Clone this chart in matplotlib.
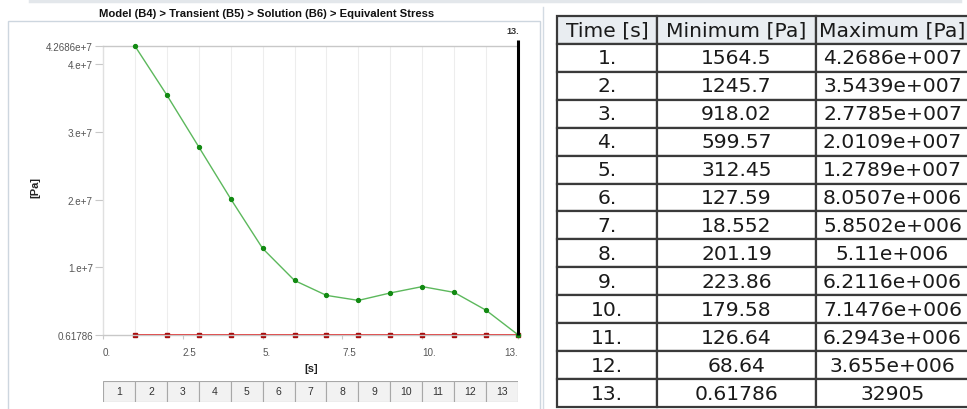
import matplotlib.pyplot as plt
from matplotlib.patches import Rectangle
from matplotlib.lines import Line2D

time_s = [1, 2, 3, 4, 5, 6, 7, 8, 9, 10, 11, 12, 13]
max_pa = [4.2686e7, 3.5439e7, 2.7785e7, 2.0109e7, 1.2789e7, 8.0507e6, 5.8502e6,
          5.11e6, 6.2116e6, 7.1476e6, 6.2943e6, 3.655e6, 32905]
min_pa = [1564.5, 1245.7, 918.02, 599.57, 312.45, 127.59, 18.552,
          201.19, 223.86, 179.58, 126.64, 68.64, 0.61786]

xtick_vals = [0, 2.5, 5, 7.5, 10, 13]
xtick_labels = ["0.", "2.5", "5.", "7.5", "10.", "13."]
ytick_vals = [0.61786, 1e7, 2e7, 3e7, 4e7, 4.2686e7]
ytick_labels = ["0.61786", "1.e+7", "2.e+7", "3.e+7", "4.e+7", "4.2686e+7"]

table_header = ["Time [s]", "Minimum [Pa]", "Maximum [Pa]"]
table_time = ["1.", "2.", "3.", "4.", "5.", "6.", "7.", "8.", "9.", "10.", "11.", "12.", "13."]
table_min = ["1564.5", "1245.7", "918.02", "599.57", "312.45", "127.59", "18.552",
             "201.19", "223.86", "179.58", "126.64", "68.64", "0.61786"]
table_max = ["4.2686e+007", "3.5439e+007", "2.7785e+007", "2.0109e+007", "1.2789e+007",
             "8.0507e+006", "5.8502e+006", "5.11e+006", "6.2116e+006", "7.1476e+006",
             "6.2943e+006", "3.655e+006", "32905"]

title = "Model (B4) > Transient (B5) > Solution (B6) > Equivalent Stress"

W, H = 967, 410


def box(x0, y0, x1, y1):
    # pixel box (top-left origin) -> figure fraction rect
    return [x0 / W, 1 - y1 / H, (x1 - x0) / W, (y1 - y0) / H]


fig = plt.figure(figsize=(W / 100, H / 100), dpi=100)
fig.patch.set_facecolor("white")

# frames around the chart panel and table
fig.add_artist(Line2D([30 / W, 960 / W], [1 - 1.5 / H] * 2, color="#e3e7eb", lw=2.5))
fig.add_artist(Rectangle((8 / W, -0.02), (540 - 8) / W, 1.02 - 22 / H, transform=fig.transFigure,
                         fill=False, edgecolor="#cdd6df", lw=1))
fig.add_artist(Line2D([543 / W] * 2, [0, 1 - 8 / H], color="#d3dbe3", lw=1))

fig.text(267 / W, 1 - 14 / H, title, ha="center", va="center", fontsize=8.1,
         fontweight="bold", family="Liberation Sans", color="#111111")

# main chart
ax = fig.add_axes(box(103, 47, 518, 336))
ax.plot(time_s, max_pa, color="#5cb85c", lw=1, marker="o", ms=2.8,
        mfc="#128a12", mec="#128a12", zorder=3, clip_on=False)
ax.plot(time_s, min_pa, color="#e32626", lw=1.3, marker="s", ms=2.4,
        mfc="#a80e0e", mec="#a80e0e", zorder=2, clip_on=False)
ax.set_xlim(0, 13)
ax.set_ylim(0.61786, 4.2686e7)

for side in ["left", "top", "bottom"]:
    ax.spines[side].set_linewidth(1)
ax.spines["left"].set_color("#e0e0e0")
ax.spines["top"].set_color("#c8c8c8")
ax.spines["bottom"].set_color("#c8c8c8")
ax.spines["right"].set_visible(False)

ax.set_yticks(ytick_vals, ytick_labels)
ax.set_xticks(xtick_vals, xtick_labels)
ax.set_xticks(time_s, minor=True)
ax.xaxis.remove_overlapping_locs = False
ax.grid(True, which="minor", axis="x", color="#ededed", lw=0.8)
ax.tick_params(which="minor", length=0)
ax.tick_params(axis="y", length=5.8, color="#c8c8c8", labelsize=7.1, labelcolor="#555555", pad=1.5)
ax.tick_params(axis="x", length=3, color="#c8c8c8", labelsize=7.1, labelcolor="#555555", pad=6)
for lbl in ax.get_xticklabels() + ax.get_yticklabels():
    lbl.set_family("Liberation Sans")
for lbl in ax.get_xticklabels():
    lbl.set_ha("left")
ax.get_xticklabels()[-1].set_ha("right")

ax.vlines(13, 0, 1.02, transform=ax.get_xaxis_transform(), colors="black", lw=2.2,
          clip_on=False, zorder=4)
ax.text(13.03, 1.052, "13.", transform=ax.get_xaxis_transform(), ha="right", va="center",
        fontsize=6.5, fontweight="bold", color="#333333", family="Liberation Sans")

fig.text(311 / W, 1 - 369 / H, "[s]", ha="center", va="center", fontsize=8,
         fontweight="bold", family="Liberation Sans", color="#222222")
fig.text(35 / W, 1 - 188 / H, "[Pa]", ha="center", va="center", rotation=90, fontsize=8,
         fontweight="bold", family="Liberation Sans", color="#222222")

# step selector row under the chart
axb = fig.add_axes(box(103, 382, 518, 403))
axb.bar([t - 1 for t in time_s], 1, width=1, align="edge", color="#f2f2f2",
        edgecolor="#a8a8a8", lw=0.8)
for t in time_s:
    axb.text(t - 0.5, 0.5, str(t), ha="center", va="center", fontsize=7.5,
             color="#333333", family="Liberation Sans")
axb.set_xlim(0, 13)
axb.set_ylim(0, 1)
axb.axis("off")

# results table (right column runs off the edge like the screenshot)
axt = fig.add_axes(box(557, 17, 969, 408))
axt.axis("off")
rows = [[a, b, c] for a, b, c in zip(table_time, table_min, table_max)]
tbl = axt.table(cellText=rows, colLabels=table_header, colWidths=[100, 159, 153],
                cellLoc="center", bbox=[0, 0, 1, 1])
tbl.auto_set_font_size(False)
tbl.set_fontsize(14.6)
for (r, c), cell in tbl.get_celld().items():
    cell.set_edgecolor("#3a3a3a")
    cell.set_linewidth(1.6)
    cell.get_text().set_color("#1a1a1a")
    cell.get_text().set_family("DejaVu Sans")
    if r == 0:
        cell.set_facecolor("#e9edf1")
    else:
        cell.set_facecolor("white")

fig.savefig("out.png", dpi=100)
